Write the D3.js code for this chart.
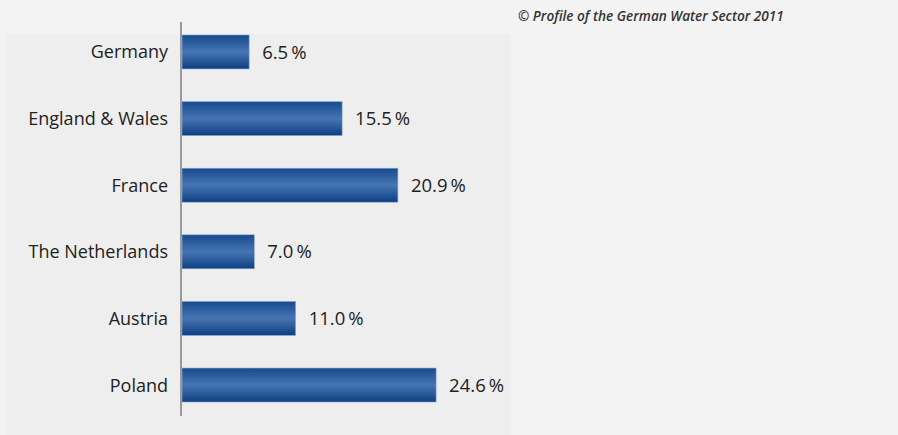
<!DOCTYPE html>
<html lang="en">
<head>
    <meta charset="UTF-8">
    <title>Water sector</title>
    <script src="https://d3js.org/d3.v7.min.js"></script>
    <style>
        body { margin: 0; background: #f3f3f3; }
        text { font-family: 'Open Sans', sans-serif; fill: #222; }
    </style>
</head>
<body>
<script>

    const width  = 898;
    const height = 435;

    const countries = ['Germany', 'England & Wales', 'France', 'The Netherlands', 'Austria', 'Poland'];
    const shares    = [6.5, 15.5, 20.9, 7.0, 11.0, 24.6];
    const valueLabels = ['6.5\u2009%', '15.5\u2009%', '20.9\u2009%', '7.0\u2009%', '11.0\u2009%', '24.6\u2009%'];
    const source = '\u00a9 Profile of the German Water Sector 2011';

    const data = countries.map((c, i) => ({country: c, value: shares[i], label: valueLabels[i]}));

    const x = d3.scaleLinear()
            .domain([0, 25])
            .range([182, 182 + 25 * 10.33]);

    const y = d3.scaleBand()
            .domain(countries)
            .range([19, 418])
            .paddingInner(0.49)
            .paddingOuter(0.24);

    const svg = d3.select("body")
            .append("svg")
            .attr("width", width)
            .attr("height", height);

    const defs = svg.append("defs");
    const grad = defs.append("linearGradient")
            .attr("id", "barGrad")
            .attr("x1", 0).attr("x2", 0).attr("y1", 0).attr("y2", 1);
    grad.append("stop").attr("offset", "0%").attr("stop-color", "#164b8e");
    grad.append("stop").attr("offset", "50%").attr("stop-color", "#4775b3");
    grad.append("stop").attr("offset", "100%").attr("stop-color", "#0c3f82");

    // panel
    svg.append("rect")
            .attr("x", 6).attr("y", 34)
            .attr("width", 504).attr("height", height - 34)
            .attr("fill", "#eeeeee");

    svg.append("text")
            .text(source)
            .attr("x", 518)
            .attr("y", 21)
            .style("font-size", "13.6px")
            .style("font-style", "italic")
            .style("font-weight", 600)
            .style("fill", "#333");

    svg.selectAll(".bar")
            .data(data)
            .enter()
            .append("rect").attr("class", "bar")
            .attr("x", x(0))
            .attr("y", d => y(d.country))
            .attr("width", d => x(d.value) - x(0))
            .attr("height", y.bandwidth())
            .attr("fill", "url(#barGrad)")
            .attr("stroke", "#8fa9cf")
            .attr("stroke-width", 0.6);

    svg.selectAll(".name")
            .data(data)
            .enter()
            .append("text").attr("class", "name")
            .text(d => d.country)
            .attr("x", 168)
            .attr("y", d => y(d.country) + y.bandwidth() / 2)
            .attr("dy", "0.36em")
            .attr("text-anchor", "end")
            .style("font-size", "18px");

    svg.selectAll(".val")
            .data(data)
            .enter()
            .append("text").attr("class", "val")
            .text(d => d.label)
            .attr("x", d => x(d.value) + 13)
            .attr("y", d => y(d.country) + y.bandwidth() / 2)
            .attr("dy", "0.36em")
            .style("font-size", "18.5px");

    svg.append("line")
            .attr("x1", 181).attr("x2", 181)
            .attr("y1", 22).attr("y2", 416)
            .attr("stroke", "#9a9a9a")
            .attr("stroke-width", 2);

</script>
</body>
</html>
